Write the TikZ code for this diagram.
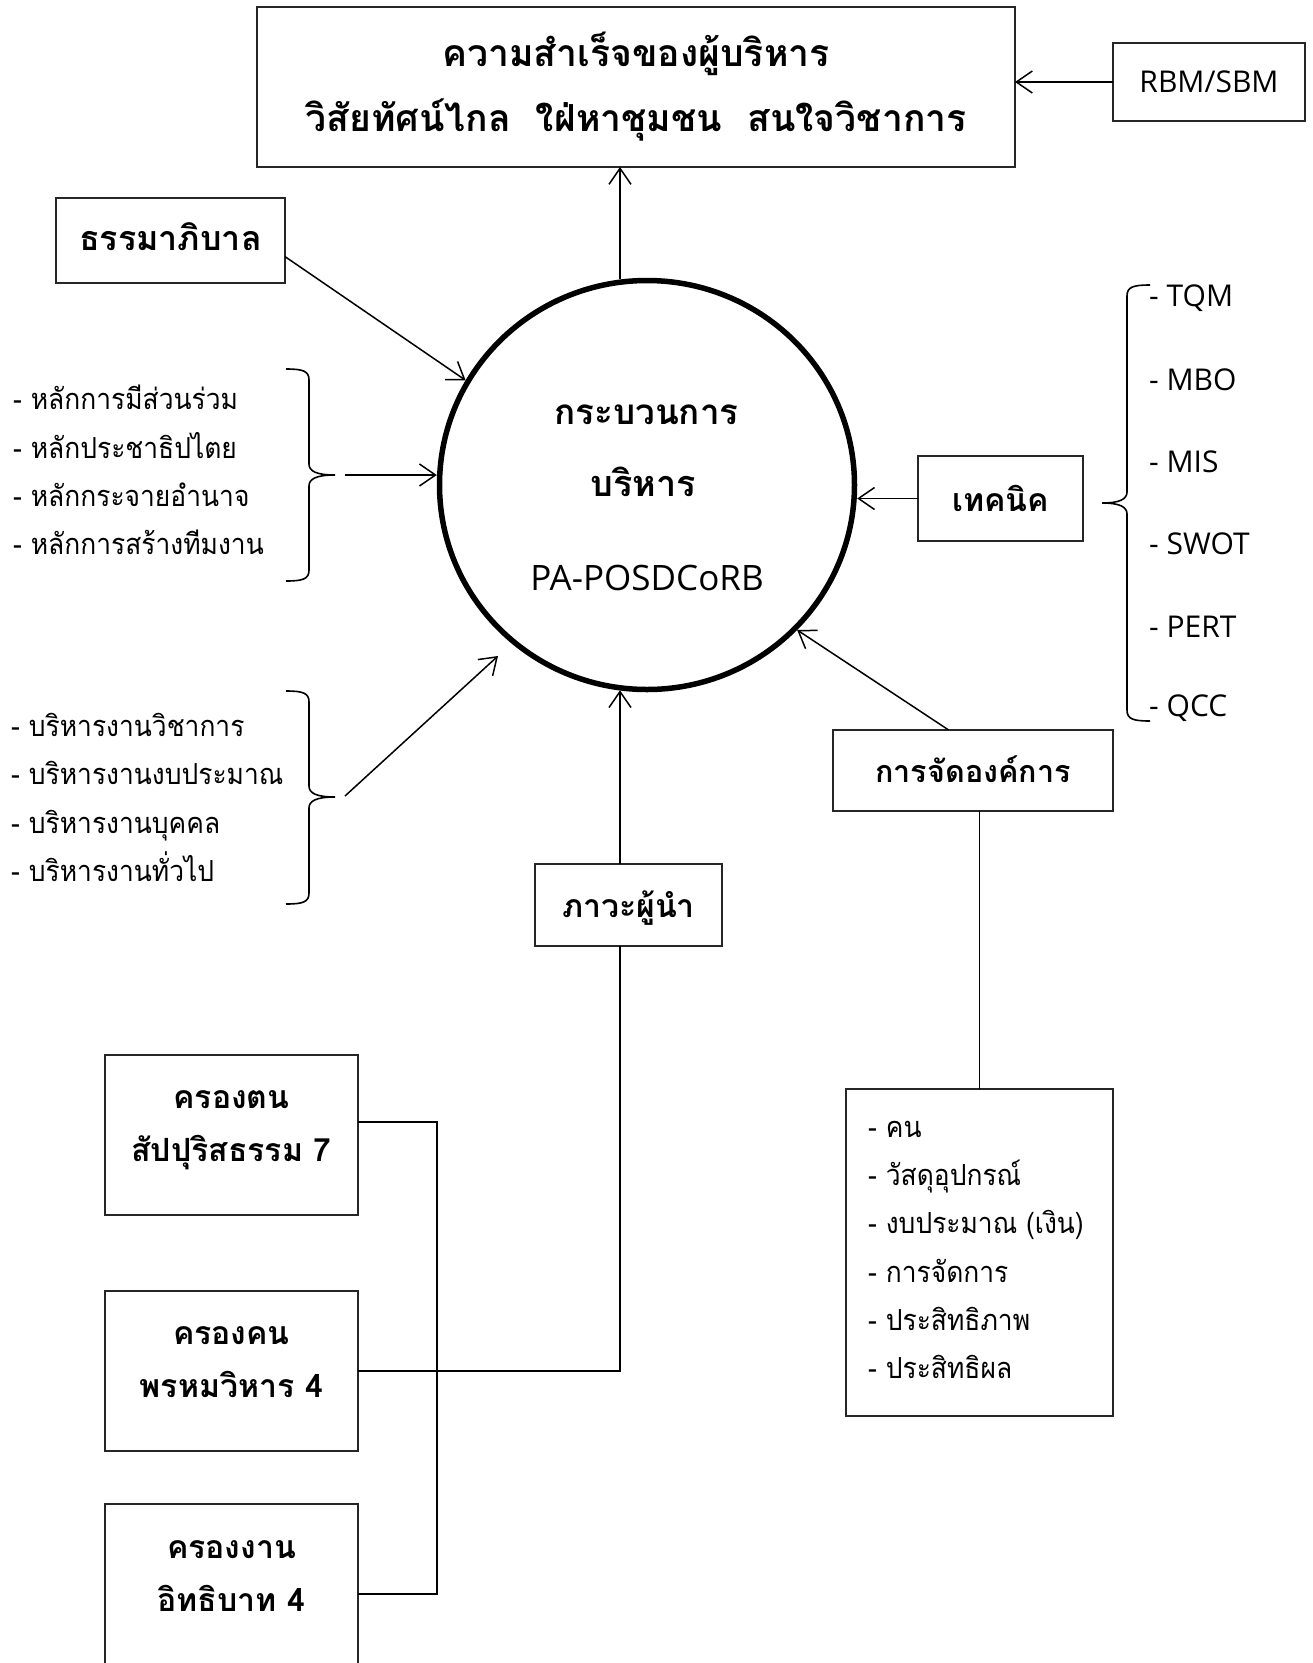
\documentclass[tikz,border=0pt]{standalone}
\usepackage{fontspec}
\setmainfont{Open Sans}
\newfontfamily\thai[Script=Thai]{Loma}
\newfontfamily\thain[Script=Thai,FakeStretch=0.91]{Loma}
\usetikzlibrary{arrows.meta,shapes.geometric,calc}
\begin{document}
\begin{tikzpicture}[x=1pt,y=-1pt,
  box/.style={draw=black!85, line width=1.4pt, inner sep=0pt, outer sep=0pt},
  arr/.style={draw=black, line width=1.5pt, -{Straight Barb[length=16pt,width=22pt]}},
  ln/.style={draw=black, line width=1.8pt},
  brc/.style={draw=black, line width=1.6pt},
  thb/.style={font=\thai\bfseries\fontsize{32}{53}\selectfont, inner sep=0pt, align=center},
  thr/.style={font=\thain\fontsize{29}{48.3}\selectfont, inner sep=0pt, align=left},
  lat/.style={font=\fontsize{30}{36}\selectfont, inner sep=0pt},
]
\fill[white] (0,0) rectangle (1313,1663);
\useasboundingbox (0,0) rectangle (1313,1663);
\coordinate (lx) at (620,0);

% top box
\node[box, minimum width=758pt, minimum height=160pt, align=center,
      font=\thai\bfseries\fontsize{37.3}{65}\selectfont] (goal) at (636,87)
  {ความสำเร็จของผู้บริหาร\\วิสัยทัศน์ไกล\ \ ใฝ่หาชุมชน\ \ สนใจวิชาการ};
\node[box, lat, minimum width=192pt, minimum height=78pt] (rbm) at (1209,82) {RBM/SBM};
\draw[arr] (rbm.west) -- (rbm.west -| goal.east);

% governance
\node[box, minimum width=229pt, minimum height=85pt] (gov) at (170.5,240.5) {};
\node[thb, font=\thai\bfseries\fontsize{34}{40}\selectfont] (govt) at (170.5,237) {ธรรมาภิบาล};

% ellipse
\node[ellipse, draw, line width=5.5pt, minimum width=415pt, minimum height=409pt,
      inner sep=0pt, outer sep=2.7pt] (proc) at (647,485) {};
\node[thb, font=\thai\bfseries\fontsize{35}{40}\selectfont] (pt1) at (646.5,415) {กระบวนการ};
\node[thb, font=\thai\bfseries\fontsize{36}{40}\selectfont] (pt2) at (643.5,482) {บริหาร};
\node[lat, font=\fontsize{35}{40}\selectfont] (pt3) at (647,578) {PA-POSDCoRB};

\draw[arr] (lx |- proc.97.5) -- (lx |- goal.south);
\draw[arr] (gov.-8.7) -- (proc.150.8);

% left list 1
\node[thr, anchor=west] (list1) at (13,470)
  {- หลักการมีส่วนร่วม\\- หลักประชาธิปไตย\\- หลักกระจายอำนาจ\\- หลักการสร้างทีมงาน};
\draw[brc] (286,369) .. controls (303,369) and (309,371) .. (309,380) -- (309,464)
  .. controls (309,471) and (316,475) .. (335,475)
  .. controls (316,475) and (309,479) .. (309,486) -- (309,570)
  .. controls (309,579) and (303,581) .. (286,581);
\coordinate (b1) at (345,475);
\draw[arr] (b1) -- (b1 -| proc.west);

% left list 2
\node[thr, anchor=west] (list2) at (11,797.5)
  {- บริหารงานวิชาการ\\- บริหารงานงบประมาณ\\- บริหารงานบุคคล\\- บริหารงานทั่วไป};
\draw[brc] (286,691) .. controls (303,691) and (309,693) .. (309,702) -- (309,786)
  .. controls (309,793) and (316,797) .. (335,797)
  .. controls (316,797) and (309,801) .. (309,808) -- (309,893)
  .. controls (309,902) and (303,904) .. (286,904);
\coordinate (b2) at (345,796);
\coordinate (e2) at (498,656);
\draw[arr] (b2) -- (e2);

% technique
\node[box, thb, minimum width=165pt, minimum height=85pt] (tech) at (1000.5,498.5) {เทคนิค};
\draw[arr] (tech.west) -- (tech.west -| proc.east);
\draw[brc] (1150,285) .. controls (1133,285) and (1127,287) .. (1127,296) -- (1127,492)
  .. controls (1127,499) and (1120,503) .. (1102,503)
  .. controls (1120,503) and (1127,507) .. (1127,514) -- (1127,710)
  .. controls (1127,719) and (1133,721) .. (1150,721);
\node[lat, anchor=west] (tqm) at (1149,298) {- TQM};
\node[lat, anchor=west] (mbo) at (1149,380) {- MBO};
\node[lat, anchor=west] (mis) at (1149,462) {- MIS};
\node[lat, anchor=west] (swot) at (1149,544) {- SWOT};
\node[lat, anchor=west] (pert) at (1149,627) {- PERT};
\node[lat, anchor=west] (qcc) at (1149,708) {- QCC};

% organising
\node[box, minimum width=280pt, minimum height=81pt] (org) at (973,770.5) {};
\node[thb, font=\thai\bfseries\fontsize{30.5}{40}\selectfont] (orgt) at (973,769) {การจัดองค์การ};
\draw[arr] (org.121.7) -- (proc.-44.6);
\node[box, minimum width=267pt, minimum height=327pt] (res) at (979.5,1252.5) {};
\node[thr, anchor=west] (resitems) at (868,1250)
  {- คน\\- วัสดุอุปกรณ์\\- งบประมาณ (เงิน)\\- การจัดการ\\- ประสิทธิภาพ\\- ประสิทธิผล};
\draw[ln] (res.north) -- (res.north |- org.south);

% leadership
\node[box, minimum width=187pt, minimum height=82pt] (lead) at (628.5,905) {};
\node[thb] (leadt) at (628.5,908) {ภาวะผู้นำ};
\path (proc.262.5) coordinate (pb);
\draw[arr] (lead.north -| lx) -- (lx |- pb);

% bottom-left boxes
\node[box, minimum width=253pt, minimum height=160pt] (k1) at (231.5,1135) {};
\node[thb] (k1t) at (231.5,1130) {ครองตน\\สัปปุริสธรรม 7};
\node[box, minimum width=253pt, minimum height=160pt] (k2) at (231.5,1371) {};
\node[thb] (k2t) at (231.5,1362.5) {ครองคน\\พรหมวิหาร 4};
\node[box, minimum width=253pt, minimum height=160pt] (k3) at (231.5,1584) {};
\node[thb] (k3t) at (231.5,1576) {ครองงาน\\อิทธิบาท 4};

\coordinate (j1) at (437,1122);
\coordinate (j3) at (437,1594);
\draw[ln] (k1.east |- j1) -- (j1) -- (j3) -- (k3.east |- j3);
\draw[ln] (k2.east) -- (k2.east -| lx) -- (lead.south -| lx);
\end{tikzpicture}
\end{document}
